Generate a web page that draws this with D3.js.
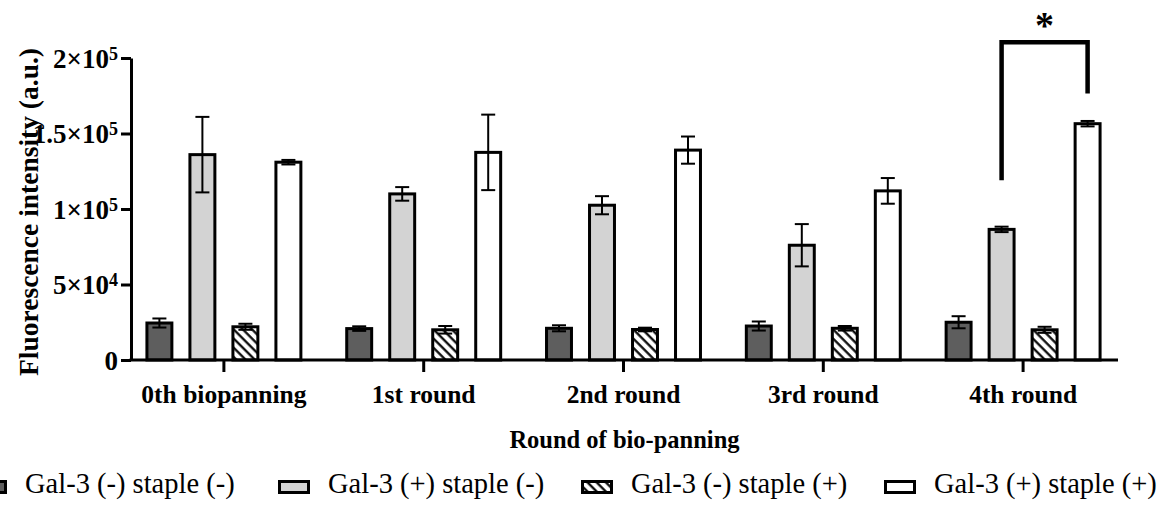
<!DOCTYPE html>
<html>
<head>
<meta charset="utf-8">
<script src="https://cdn.jsdelivr.net/npm/d3@7.9.0/dist/d3.min.js"></script>
<style>
  html, body { margin: 0; padding: 0; background: #fff; }
  svg { display: block; }
  text { font-family: "Liberation Serif", "Times New Roman", serif; fill: #000; }
</style>
</head>
<body>
<svg id="chart" width="1159" height="505"></svg>
<script>
// categories and series
const rounds = ['0th biopanning', '1st round', '2nd round', '3rd round', '4th round'];
const seriesNames = ['Gal-3 (-) staple (-)', 'Gal-3 (+) staple (-)', 'Gal-3 (-) staple (+)', 'Gal-3 (+) staple (+)'];

// mean values
const negNeg = [24500, 20800, 21000, 22500, 25000];
const posNeg = [136000, 110000, 102500, 76000, 86500];
const negPos = [22000, 20000, 20200, 21000, 20000];
const posPos = [131000, 137500, 139000, 112000, 156500];

// error bar half-lengths
const negNegErr = [3000, 1500, 2000, 3000, 4000];
const posNegErr = [25000, 4500, 6000, 14000, 1800];
const negPosErr = [2000, 2500, 1200, 1500, 2000];
const posPosErr = [1500, 25000, 9000, 8500, 1800];

const yTicks = [0, 50000, 100000, 150000, 200000];
const yTickLabels = [['0', ''], ['5×10', '4'], ['1×10', '5'], ['1.5×10', '5'], ['2×10', '5']];

const fills = ['#5e5e5e', '#d3d3d3', 'url(#hatch)', '#ffffff'];

const values = [negNeg, posNeg, negPos, posPos];
const errs = [negNegErr, posNegErr, negPosErr, posPosErr];

const svg = d3.select('#chart');
const plotLeft = 131, plotRight = 1118, plotTop = 58, plotBottom = 360;

// hatch pattern: lines running top-left to bottom-right
const defs = svg.append('defs');
const pat = defs.append('pattern')
  .attr('id', 'hatch')
  .attr('patternUnits', 'userSpaceOnUse')
  .attr('width', 6.5).attr('height', 6.5)
  .attr('patternTransform', 'rotate(-45)');
pat.append('rect').attr('width', 6.5).attr('height', 6.5).attr('fill', '#fff');
pat.append('line').attr('x1', 1.5).attr('y1', 0).attr('x2', 1.5).attr('y2', 6.5)
  .attr('stroke', '#000').attr('stroke-width', 2.2);

const y = d3.scaleLinear().domain([0, 200000]).range([plotBottom, plotTop]);
const x0 = d3.scaleBand().domain(rounds).range([124, 1123]);
const x1 = d3.scaleBand().domain(seriesNames).range([-86, 86]).paddingInner(0.35).paddingOuter(0.175);

// bars
const groups = svg.append('g').selectAll('g')
  .data(rounds)
  .join('g')
  .attr('transform', d => `translate(${x0(d) + x0.bandwidth() / 2},0)`);

groups.each(function(r, gi) {
  const g = d3.select(this);
  seriesNames.forEach((s, si) => {
    const v = values[si][gi];
    g.append('rect')
      .attr('x', x1(s) + 1.5)
      .attr('y', y(v))
      .attr('width', x1.bandwidth() - 3)
      .attr('height', y(0) - y(v))
      .attr('fill', fills[si])
      .attr('stroke', '#000')
      .attr('stroke-width', 3);
  });
  seriesNames.forEach((s, si) => {
    const v = values[si][gi], e = errs[si][gi];
    const cx = x1(s) + x1.bandwidth() / 2;
    const eb = g.append('g').attr('stroke', '#000').attr('stroke-width', 2);
    eb.append('line').attr('x1', cx).attr('x2', cx).attr('y1', y(v - e)).attr('y2', y(v + e));
    eb.append('line').attr('x1', cx - 7).attr('x2', cx + 7).attr('y1', y(v + e)).attr('y2', y(v + e));
    eb.append('line').attr('x1', cx - 7).attr('x2', cx + 7).attr('y1', y(v - e)).attr('y2', y(v - e));
  });
});

// y axis
const yAxis = svg.append('g')
  .attr('transform', `translate(${plotLeft},0)`)
  .call(d3.axisLeft(y).tickValues(yTicks).tickSize(10).tickSizeOuter(0).tickPadding(3).tickFormat(''));
yAxis.select('.domain').attr('stroke-width', 3);
yAxis.selectAll('.tick line').attr('stroke-width', 3);
yAxis.selectAll('.tick text').each(function(d, i) {
  const t = d3.select(this)
    .attr('font-size', 27).attr('font-weight', 'bold')
    .attr('font-family', '"Liberation Serif", serif')
    .attr('dy', '0.34em');
  const [base, exp] = yTickLabels[i];
  t.append('tspan').text(base);
  if (exp) t.append('tspan').attr('dy', '-0.45em').attr('font-size', 18).text(exp);
});

// x axis
const xAxis = svg.append('g')
  .attr('transform', `translate(0,${plotBottom})`)
  .call(d3.axisBottom(x0).tickSize(12).tickSizeOuter(0).tickPadding(13));
xAxis.select('.domain').remove();
xAxis.selectAll('.tick line').attr('stroke-width', 3);
xAxis.selectAll('.tick text')
  .attr('font-size', 25.5).attr('font-weight', 'bold')
  .attr('font-family', '"Liberation Serif", serif');
svg.append('line')
  .attr('x1', plotLeft - 1.5).attr('x2', plotRight)
  .attr('y1', plotBottom).attr('y2', plotBottom)
  .attr('stroke', '#000').attr('stroke-width', 3);

// axis titles
svg.append('text')
  .attr('transform', `translate(38,${(plotTop + plotBottom) / 2 + 3}) rotate(-90)`)
  .attr('text-anchor', 'middle')
  .attr('font-size', 27.5).attr('font-weight', 'bold')
  .text('Fluorescence intensity (a.u.)');
svg.append('text')
  .attr('x', (plotLeft + plotRight) / 2).attr('y', 448)
  .attr('text-anchor', 'middle')
  .attr('font-size', 24.5).attr('font-weight', 'bold')
  .text('Round of bio-panning');

// significance bracket between gal-3(+) staple(-) and gal-3(+) staple(+) in the last round
const last = rounds[4];
const bx1 = x0(last) + x0.bandwidth() / 2 + x1(seriesNames[1]) + x1.bandwidth() / 2;
const bx2 = x0(last) + x0.bandwidth() / 2 + x1(seriesNames[3]) + x1.bandwidth() / 2;
svg.append('path')
  .attr('d', d3.line()([[bx1, y(119000)], [bx1, y(210500)], [bx2, y(210500)], [bx2, y(176500)]]))
  .attr('fill', 'none').attr('stroke', '#000').attr('stroke-width', 4.5);
svg.append('text')
  .attr('x', (bx1 + bx2) / 2).attr('y', 38)
  .attr('text-anchor', 'middle')
  .attr('font-size', 38).attr('font-weight', 'bold')
  .text('*');

// legend
const legend = svg.append('g').selectAll('g')
  .data(seriesNames)
  .join('g')
  .attr('transform', (d, i) => `translate(${-25 + i * 303},0)`);
legend.append('rect')
  .attr('x', 1.5).attr('y', 481.5)
  .attr('width', 29).attr('height', 11)
  .attr('fill', (d, i) => fills[i])
  .attr('stroke', '#000').attr('stroke-width', 3);
legend.append('text')
  .attr('x', 50).attr('y', 493)
  .attr('font-size', 28.5)
  .text(d => d);
</script>
</body>
</html>
